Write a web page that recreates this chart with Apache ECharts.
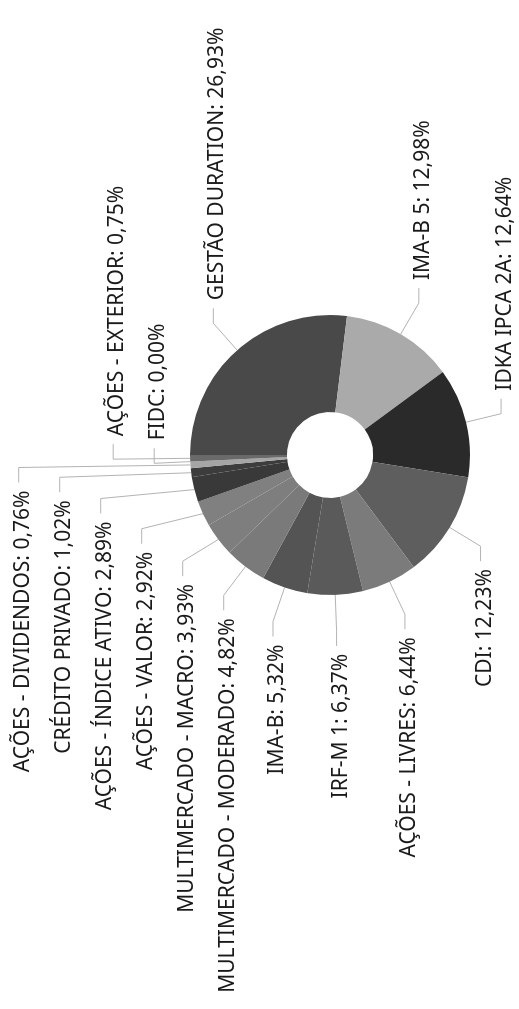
<!DOCTYPE html>
<html>
<head>
<meta charset="UTF-8">
<title></title>
<script src="https://cdn.jsdelivr.net/npm/echarts@6/dist/echarts.min.js"></script>
<style type="text/css">
    html,
    body {
        margin: 0;
        padding: 0;
        width: 519px;
        height: 1009px;
        overflow: hidden;
        background: #fff;
    }

    /* the chart is laid out landscape and turned a quarter to the left */
    #main {
        position: absolute;
        left: 0;
        top: 0;
        width: 1009px;
        height: 519px;
        transform-origin: 0 0;
        transform: translateY(1009px) rotate(-90deg);
    }
</style>
</head>
<body>
<div id="main"></div>
<script>
    var categories = [
        'GESTÃO DURATION', 'IMA-B 5', 'IDKA IPCA 2A', 'CDI', 'AÇÕES - LIVRES',
        'IRF-M 1', 'IMA-B', 'MULTIMERCADO - MODERADO', 'MULTIMERCADO - MACRO',
        'AÇÕES - VALOR', 'AÇÕES - ÍNDICE ATIVO', 'CRÉDITO PRIVADO',
        'AÇÕES - DIVIDENDOS', 'FIDC', 'AÇÕES - EXTERIOR'
    ];
    var values = [26.93, 12.98, 12.64, 12.23, 6.44, 6.37, 5.32, 4.82, 3.93, 2.92, 2.89, 1.02, 0.76, 0.00, 0.75];
    var sliceColors = [
        '#494949', '#aaaaaa', '#2a2a2a', '#5e5e5e', '#7b7b7b',
        '#5a5a5a', '#545454', '#7a7a7a', '#7e7e7e',
        '#808080', '#393939', '#3c3c3c',
        '#a5a5a5', '#6a6a6a', '#6a6a6a'
    ];

    var CX = 554, CY = 330, R_IN = 43, R_OUT = 140;
    var START_ANGLE = 90;
    var LINE_LEN = 36, LINE_LEN2 = 15, LABEL_GAP = 8, LABEL_STEP = 41, TEXT_DROP = 4;
    var SIDE_TOL = 0.05;

    function fmt(v) {
        return v.toFixed(2).replace('.', ',') + '%';
    }

    // natural label point on each slice, then stacked upwards on each side
    function buildLabelLayout() {
        var total = values.reduce(function (a, b) { return a + b; }, 0);
        var acc = 0;
        var items = [];
        for (var i = 0; i < values.length; i++) {
            var mid = -START_ANGLE * Math.PI / 180 + 2 * Math.PI * (acc + values[i] / 2) / total;
            acc += values[i];
            var c = Math.cos(mid), s = Math.sin(mid);
            items.push({
                side: c > -SIDE_TOL ? 1 : -1,
                edge: [CX + R_OUT * c, CY + R_OUT * s],
                x: CX + (R_OUT + LINE_LEN) * c,
                y: CY + (R_OUT + LINE_LEN) * s
            });
        }
        [1, -1].forEach(function (side) {
            var list = items.filter(function (d) { return d.side === side; });
            list.sort(function (a, b) { return a.y - b.y; });
            for (var k = list.length - 2; k >= 0; k--) {
                list[k].y = Math.min(list[k].y, list[k + 1].y - LABEL_STEP);
            }
        });
        return items;
    }
    var labelPos = buildLabelLayout();

    var myChart = echarts.init(document.getElementById('main'), null, { renderer: 'canvas' });

    var option = {
        backgroundColor: '#fff',
        animation: false,
        series: [{
            type: 'pie',
            center: [CX, CY],
            radius: [R_IN, R_OUT],
            startAngle: START_ANGLE,
            clockwise: true,
            avoidLabelOverlap: false,
            emphasis: { disabled: true },
            itemStyle: { borderWidth: 0 },
            label: {
                show: true,
                position: 'outside',
                color: '#1a1a1a',
                fontFamily: 'Noto Sans',
                fontWeight: 'normal',
                fontSize: 21,
                formatter: function (p) {
                    return p.name + ': ' + fmt(p.value);
                }
            },
            labelLine: {
                show: true,
                length: LINE_LEN,
                length2: LINE_LEN2,
                lineStyle: { color: '#b3b3b3', width: 1 }
            },
            labelLayout: function (params) {
                var p = labelPos[params.dataIndex];
                var endX = p.x + p.side * LINE_LEN2;
                return {
                    x: endX + p.side * LABEL_GAP,
                    y: p.y + TEXT_DROP,
                    align: p.side > 0 ? 'left' : 'right',
                    verticalAlign: 'middle',
                    labelLinePoints: [p.edge, [p.x, p.y], [endX, p.y]]
                };
            },
            data: categories.map(function (name, i) {
                return { name: name, value: values[i], itemStyle: { color: sliceColors[i] } };
            })
        }]
    };

    myChart.setOption(option);
</script>
</body>
</html>
